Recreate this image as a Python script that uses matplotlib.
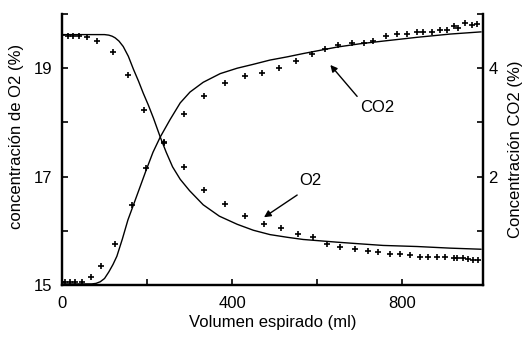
import matplotlib
matplotlib.use("Agg")
import matplotlib.pyplot as plt

plt.rcParams['font.family'] = ['Liberation Sans', 'DejaVu Sans']

# measured O2 points (%)
o2_x = [0, 14, 26, 40, 59, 83, 120, 155, 194, 240, 287, 334, 384, 431, 475, 515, 555, 591,
        624, 654, 689, 720, 744, 772, 795, 819, 842, 861, 882, 901, 921, 929, 944, 955, 967, 979]
o2_y = [19.62, 19.6, 19.6, 19.6, 19.57, 19.5, 19.29, 18.87, 18.23, 17.64, 17.17, 16.76, 16.49,
        16.27, 16.12, 16.06, 15.94, 15.88, 15.75, 15.70, 15.66, 15.62, 15.60, 15.58, 15.57, 15.55,
        15.51, 15.51, 15.51, 15.51, 15.50, 15.50, 15.50, 15.48, 15.47, 15.46]

# measured CO2 points (%)
co2_x = [0, 7, 19, 31, 47, 68, 92, 125, 164, 197, 240, 287, 334, 384, 431, 471, 511, 551, 588,
         619, 649, 681, 709, 732, 762, 788, 811, 835, 850, 870, 889, 905, 921, 932, 948, 965, 975]
co2_y = [0.06, 0.06, 0.06, 0.06, 0.06, 0.15, 0.35, 0.75, 1.47, 2.16, 2.62, 3.16, 3.49, 3.72,
         3.85, 3.92, 4.01, 4.14, 4.27, 4.35, 4.42, 4.46, 4.47, 4.50, 4.59, 4.64, 4.64, 4.66,
         4.66, 4.66, 4.70, 4.70, 4.77, 4.74, 4.83, 4.80, 4.81]

# fitted O2 curve
o2_fit_x = [0, 50, 100, 110, 118, 125, 134, 144, 156, 168, 180, 191, 203, 215, 231, 245, 260,
            278, 300, 332, 370, 412, 450, 489, 530, 567, 647, 700, 755, 835, 913, 985]
o2_fit_y = [19.62, 19.62, 19.62, 19.61, 19.59, 19.56, 19.50, 19.40, 19.22, 18.98, 18.76, 18.54,
            18.32, 18.08, 17.73, 17.45, 17.18, 16.95, 16.74, 16.48, 16.27, 16.12, 16.01, 15.93,
            15.88, 15.84, 15.79, 15.76, 15.73, 15.71, 15.68, 15.66]

# fitted CO2 curve
co2_fit_x = [0, 70, 80, 90, 100, 110, 120, 129, 142, 155, 170, 184, 197, 214, 231, 254, 278,
             301, 332, 372, 412, 449, 489, 530, 567, 607, 647, 700, 755, 835, 913, 985]
co2_fit_y = [0.02, 0.02, 0.03, 0.06, 0.12, 0.24, 0.38, 0.53, 0.85, 1.20, 1.52, 1.82, 2.10,
             2.45, 2.73, 3.05, 3.36, 3.56, 3.74, 3.90, 4.00, 4.07, 4.15, 4.21, 4.27, 4.33,
             4.39, 4.45, 4.50, 4.57, 4.63, 4.67]

W, H = 529, 344
fig = plt.figure(figsize=(W / 100, H / 100), dpi=100)
ax = fig.add_axes([62 / W, 1 - 285 / H, (483 - 62) / W, (285 - 14) / H])
ax2 = ax.twinx()

fs = 12
ax.plot(o2_fit_x, o2_fit_y, color='black', lw=1.0)
ax.plot(o2_x, o2_y, linestyle='none', marker='+', color='black', ms=4, mew=1.2)
ax2.plot(co2_fit_x, co2_fit_y, color='black', lw=1.0)
ax2.plot(co2_x, co2_y, linestyle='none', marker='+', color='black', ms=4, mew=1.2)

ax.set_xlim(0, 990)
ax.set_ylim(15, 20)
ax2.set_ylim(0, 5)

ax.set_xticks([0, 400, 800])
ax.set_xticks([200, 600], minor=True)
ax.set_yticks([15, 17, 19])
ax.set_yticks([16, 18, 20], minor=True)
ax2.set_yticks([2, 4])
ax2.set_yticks([0, 1, 3, 5], minor=True)

for a in (ax, ax2):
    a.spines['top'].set_visible(False)
    for s in ('left', 'right', 'bottom'):
        a.spines[s].set_linewidth(1.6)
    a.tick_params(which='both', direction='in', length=4, width=1.2, labelsize=fs)
ax.tick_params(axis='y', pad=7)
ax.tick_params(axis='x', pad=8)
ax2.tick_params(axis='y', pad=4)

ax.set_xlabel('Volumen espirado (ml)', fontsize=fs, labelpad=3)
ax.set_ylabel('concentración de O2 (%)', fontsize=fs)
ax.yaxis.set_label_coords(-0.09, 0.55)
ax2.set_ylabel('Concentración CO2 (%)', fontsize=fs)
ax2.yaxis.set_label_coords(1.06, 0.5)

# annotations
ax.annotate('', xy=(631, 19.06), xytext=(694, 18.48),
            arrowprops=dict(arrowstyle='-|>', color='black', lw=1.0, mutation_scale=10,
                            shrinkA=0, shrinkB=0))
ax.text(741, 18.28, 'CO2', fontsize=fs, ha='center', va='center')
ax.annotate('', xy=(475, 16.25), xytext=(553, 16.66),
            arrowprops=dict(arrowstyle='-|>', color='black', lw=1.0, mutation_scale=10,
                            shrinkA=0, shrinkB=0))
ax.text(584, 16.92, 'O2', fontsize=fs, ha='center', va='center')

fig.savefig('out.png', dpi=100)
